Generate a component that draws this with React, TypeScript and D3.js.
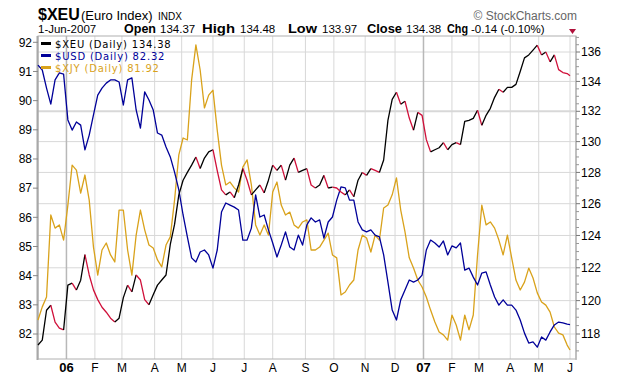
import React from 'react';
import * as d3 from 'd3';

const W = 620;
const H = 379;

// Trading calendar
const startDate = '2005-12-02';
const endDate = '2007-06-01';
const holidays = [
  '2005-12-26', '2006-01-02', '2006-01-16', '2006-02-20', '2006-04-14', '2006-05-29',
  '2006-07-04', '2006-09-04', '2006-11-23', '2006-12-25', '2007-01-01', '2007-01-02',
  '2007-01-15', '2007-02-19', '2007-04-06', '2007-05-28',
];
const sampleStep = 3; // values below are read every 3 trading days (last = final day)

const xeuValues = [
  117.35, 117.64, 119.42, 119.72, 118.71, 118.35, 118.24, 120.94, 121.06, 120.64,
  121.24, 122.81, 121.56, 120.65, 120.06, 119.6, 119.3, 118.94, 118.71, 118.94,
  120.18, 120.94, 120.53, 121.56, 121.25, 120.06, 119.75, 120.35, 120.94, 121.25,
  121.56, 123.44, 124.69, 126.56, 127.5, 128, 128.47, 129, 128.25, 128.93,
  129.33, 129.47, 128.12, 126.88, 126.56, 126.75, 126.38, 127.19, 128.25, 127.5,
  126.56, 126.88, 127.19, 126.69, 127.5, 128.47, 128.13, 128.47, 127.5, 128.47,
  128.93, 128, 128.13, 128.25, 127.19, 127, 127.19, 127.81, 127, 127.06,
  127, 126.75, 126.56, 126.88, 126.44, 127.5, 128, 127.81, 128.25, 128.13,
  128, 128.8, 131.4, 132.8, 133.27, 132.47, 132.67, 131.55, 130.75, 131.93,
  131.73, 130.13, 129.33, 129.47, 129.6, 129.93, 129.47, 129.8, 129.93, 129.8,
  131.33, 131.4, 131.53, 132.07, 131.07, 131.73, 132.2, 132.93, 133.47, 133.27,
  133.6, 133.6, 133.8, 134.67, 135.6, 135.8, 136.13, 136.47, 135.8, 136,
  135.33, 135.8, 134.8, 134.6, 134.53, 134.38,
];

const usdValues = [
  91.22, 91.05, 90.43, 89.88, 90.71, 90.95, 90.91, 89.34, 88.99, 89.27,
  89.16, 88.31, 88.82, 89.51, 90.19, 90.43, 90.6, 90.71, 90.71, 90.64,
  89.85, 90.71, 90.78, 89.68, 89.06, 90.3, 90.02, 89.68, 88.89, 88.82,
  88.41, 88.07, 87.55, 86.94, 86.08, 85.33, 84.61, 84.47, 84.81, 84.88,
  84.71, 84.26, 84.88, 86.18, 86.49, 86.42, 86.35, 86.25, 85.22, 85.22,
  85.63, 86.77, 86.01, 86.08, 85.57, 85.12, 84.64, 85.05, 85.5, 84.98,
  84.88, 85.39, 85.05, 85.74, 85.98, 85.84, 85.91, 85.29, 85.84, 86.01,
  86.59, 87.04, 87.01, 86.59, 86.59, 85.84, 85.57, 85.5, 85.57, 85.39,
  85.33, 84.71, 83.78, 82.82, 82.48, 83.17, 83.51, 83.85, 83.78, 83.85,
  84.02, 84.88, 85.22, 85.12, 84.98, 85.19, 84.71, 85.02, 84.95, 85.12,
  84.19, 84.26, 83.95, 83.68, 84.09, 84.13, 83.68, 83.27, 82.99, 83.17,
  82.99, 82.99, 82.82, 82.48, 82.03, 81.69, 81.73, 81.55, 81.9, 81.79,
  82.07, 82.31, 82.41, 82.38, 82.34, 82.32,
];

const xjyValues = [
  82.48, 82.93, 83.27, 86.08, 85.63, 85.74, 85.22, 86.42, 87.79, 87.62,
  86.83, 87.45, 86.59, 84.98, 84.02, 84.88, 85.12, 84.71, 84.47, 86.25,
  86.25, 84.88, 84.02, 85.39, 86.25, 85.57, 85.05, 84.95, 84.54, 84.3,
  85.05, 85.33, 86.59, 88.14, 88.72, 88.65, 90.71, 91.91, 91.05, 89.75,
  90.19, 90.36, 88.99, 87.79, 87.11, 87.21, 87.01, 86.87, 87.72, 87.97,
  87.11, 85.74, 85.39, 85.74, 85.39, 86.87, 87.21, 86.42, 86.08, 86.18,
  85.74, 85.63, 85.84, 85.91, 84.88, 84.88, 84.98, 85.22, 85.46, 84.71,
  84.61, 83.34, 83.44, 83.68, 83.85, 84.88, 85.39, 85.29, 84.81, 85.39,
  85.22, 86.32, 86.42, 86.77, 87.35, 86.25, 85.5, 84.61, 84.26, 83.85,
  83.61, 83.27, 82.82, 82.41, 82.07, 81.97, 81.79, 82.65, 82.31, 81.79,
  82.65, 82.14, 82.65, 84.71, 86.42, 85.74, 85.84, 85.63, 85.22, 84.71,
  85.39, 84.61, 83.85, 83.51, 83.78, 84.26, 83.92, 83.41, 83.1, 82.99,
  82.75, 82.24, 82.03, 81.97, 81.62, 81.45,
];

const leftTicks = [82, 83, 84, 85, 86, 87, 88, 89, 90, 91, 92];
const rightTicks = [118, 120, 122, 124, 126, 128, 130, 132, 134, 136];
const monthLetters = ['J', 'F', 'M', 'A', 'M', 'J', 'J', 'A', 'S', 'O', 'N', 'D'];

const legendItems = [
  { label: '$XEU (Daily) 134.38', color: '#000000' },
  { label: '$USD (Daily) 82.32', color: '#000099' },
  { label: '$XJY (Daily) 81.92', color: '#d9a21b' },
];

const headerStats = [
  { k: 'Open', v: '134.37' },
  { k: 'High', v: '134.48' },
  { k: 'Low', v: '133.97' },
  { k: 'Close', v: '134.38' },
  { k: 'Chg', v: '-0.14 (-0.10%)' },
];

const UP = '#000000';
const DOWN = '#d0103a';
const USD_C = '#000099';
const XJY_C = '#d9a21b';
const FONT = '"Liberation Sans", Arial, sans-serif';

function tradingDays(): Date[] {
  const parse = d3.timeParse('%Y-%m-%d');
  const fmt = d3.timeFormat('%Y-%m-%d');
  const s = parse(startDate) as Date;
  const e = d3.timeDay.offset(parse(endDate) as Date, 1);
  const hol = new Set(holidays);
  return d3.timeDay.range(s, e).filter((d) => {
    const wd = d.getDay();
    return wd !== 0 && wd !== 6 && !hol.has(fmt(d));
  });
}

export default function App() {
  const days = tradingDays();
  const N = days.length;
  const L = 38, R = 576, T = 36, B = 359;
  const x = d3.scaleLinear().domain([0, N - 1]).range([38, 570]);
  const yR = d3.scaleLog().domain([118, 136]).range([334, 52]);
  const yL = d3.scaleLinear().domain([82, 92]).range([334, 42.3]);
  const idx = (i: number) => Math.min(i * sampleStep, N - 1);

  const monthTicks: { i: number; d: Date }[] = [];
  for (let i = 1; i < N; i++) {
    if (days[i].getMonth() !== days[i - 1].getMonth()) monthTicks.push({ i, d: days[i] });
  }

  const line = d3.line<[number, number]>();
  const ptsL = (vals: number[]) => vals.map((v, i) => [x(idx(i)), yL(v)] as [number, number]);

  // XEU colored by direction
  const segs: { color: string; pts: [number, number][] }[] = [];
  for (let i = 1; i < xeuValues.length; i++) {
    const color = xeuValues[i] >= xeuValues[i - 1] ? UP : DOWN;
    const p: [number, number] = [x(idx(i)), yR(xeuValues[i])];
    const last = segs[segs.length - 1];
    if (last && last.color === color) last.pts.push(p);
    else segs.push({ color, pts: [[x(idx(i - 1)), yR(xeuValues[i - 1])], p] });
  }

  const minorR: number[] = [];
  for (let v = 116; v <= 138; v += 0.5) {
    const yy = yR(v);
    if (yy > T + 1 && yy < B - 1 && v % 2 !== 0) minorR.push(v);
  }

  // header positions / widths (px)
  const statX = [124, 202, 288, 367, 447];
  const statW = [32, 33, 29, 35, 21];
  const statVX = [160, 240, 322, 406, 471];

  return (
    <svg width={W} height={H} style={{ position: 'absolute', left: 0, top: 0, background: '#fff' }} fontFamily={FONT}>
      <rect x={0} y={0} width={W} height={H} fill="#fff" />
      {/* header */}
      <text x={38} y={20} fontSize={16} fontWeight="bold">$XEU</text>
      <text x={81} y={20} fontSize={13}>(Euro Index)</text>
      <text x={158} y={20} fontSize={10}>INDX</text>
      <text x={577} y={20} fontSize={12} fill="#666" textAnchor="end">© StockCharts.com</text>
      <text x={38} y={33} fontSize={11.5}>1-Jun-2007</text>
      {headerStats.map((s, i) => (
        <g key={s.k}>
          <text x={statX[i]} y={33} fontSize={12.5} fontWeight="bold" textLength={statW[i]} lengthAdjust="spacingAndGlyphs">{s.k}</text>
          <text x={statVX[i]} y={33} fontSize={11.5}>{s.v}</text>
        </g>
      ))}
      <path d="M569,29 L576,29 L572.5,34 Z" fill="#b0103a" />

      {/* grid */}
      {rightTicks.map((t) => (
        <line key={'h' + t} x1={L} x2={R} y1={yR(t)} y2={yR(t)} stroke="#d8d8d8" strokeWidth={t === 132 ? 2 : 1} />
      ))}
      {monthTicks.map((m) => (
        <line key={'v' + m.i} x1={x(m.i)} x2={x(m.i)} y1={T} y2={B}
          stroke={m.d.getMonth() === 0 ? '#b8b8b8' : '#d8d8d8'} strokeWidth={m.d.getMonth() === 0 ? 1.5 : 1} />
      ))}

      {/* frame */}
      <rect x={L} y={T} width={R - L} height={B - T} fill="none" stroke="#b0b0b0" strokeWidth={1} />
      <line x1={L - 0.5} x2={L - 0.5} y1={T} y2={B + 1} stroke="#a8a8a8" strokeWidth={2} />
      <line x1={R} x2={R} y1={T} y2={B + 1} stroke="#b8b8b8" strokeWidth={1.5} />

      {/* left axis */}
      {leftTicks.map((t) => (
        <g key={'l' + t}>
          <line x1={33} x2={L} y1={yL(t)} y2={yL(t)} stroke="#888" />
          <text x={32} y={yL(t)} dy="0.35em" fontSize={12} textAnchor="end">{t}</text>
        </g>
      ))}
      {/* right axis */}
      {minorR.map((t) => (
        <line key={'m' + t} x1={R} x2={R + 3} y1={yR(t)} y2={yR(t)} stroke="#999" />
      ))}
      {rightTicks.map((t) => (
        <g key={'r' + t}>
          <line x1={R} x2={R + 4} y1={yR(t)} y2={yR(t)} stroke="#777" />
          <text x={581} y={yR(t)} dy="0.35em" fontSize={12}>{t}</text>
        </g>
      ))}
      {/* bottom labels */}
      {monthTicks.map((m) => {
        const mo = m.d.getMonth();
        const isYear = mo === 0;
        return (
          <text key={'b' + m.i} x={x(m.i)} y={372} fontSize={isYear ? 13 : 12} fontWeight={isYear ? 'bold' : 'normal'} textAnchor="middle">
            {isYear ? d3.timeFormat('%y')(m.d) : monthLetters[mo]}
          </text>
        );
      })}

      {/* series */}
      <path d={line(ptsL(xjyValues)) || ''} fill="none" stroke={XJY_C} strokeWidth={1.3} strokeLinejoin="round" />
      <path d={line(ptsL(usdValues)) || ''} fill="none" stroke={USD_C} strokeWidth={1.3} strokeLinejoin="round" />
      {segs.map((s, i) => (
        <path key={'s' + i} d={line(s.pts) || ''} fill="none" stroke={s.color} strokeWidth={1.3} strokeLinejoin="round" />
      ))}

      {/* legend */}
      {legendItems.map((it, i) => (
        <g key={it.label}>
          <line x1={41} x2={51} y1={43.5 + i * 12} y2={43.5 + i * 12} stroke={it.color} strokeWidth={3} />
          <text x={55} y={47.5 + i * 12} fontSize={10} letterSpacing={0.8} fill={it.color} fontFamily='"DejaVu Sans", Verdana, sans-serif'>{it.label}</text>
        </g>
      ))}
    </svg>
  );
}
